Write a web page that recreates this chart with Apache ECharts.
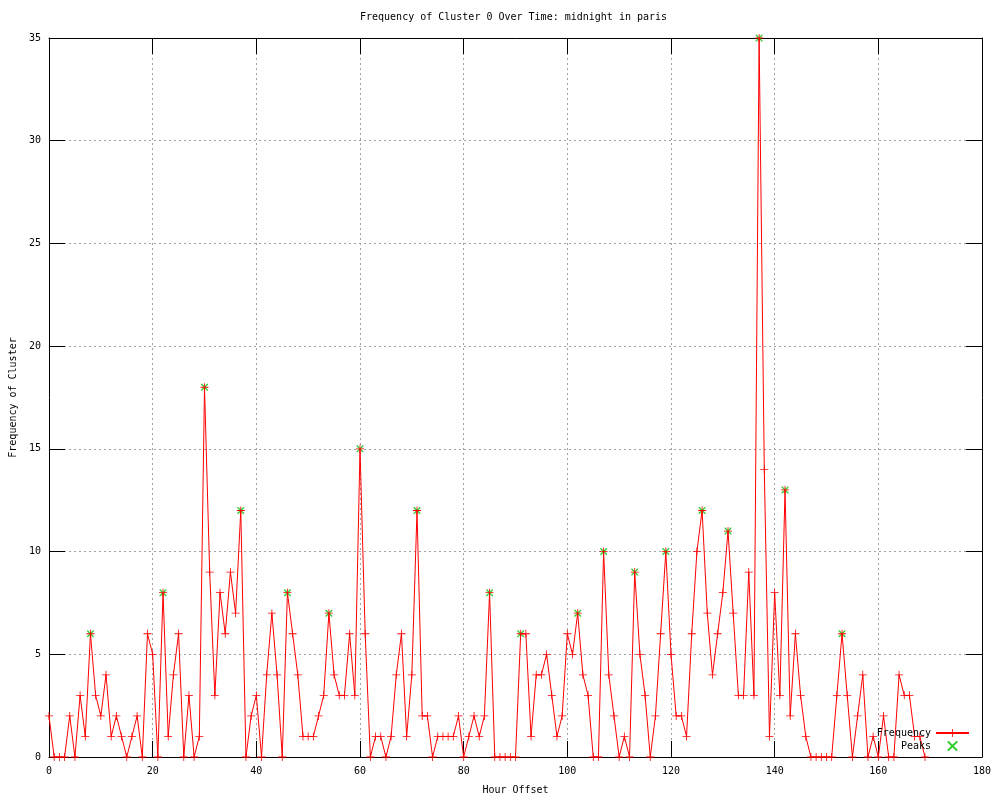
<!DOCTYPE html>
<html>
<head>
<meta charset="utf-8">
<script src="https://cdn.jsdelivr.net/npm/echarts@6/dist/echarts.min.js"></script>
<style>html,body{margin:0;padding:0;background:#fff}#c{width:1000px;height:800px}</style>
</head>
<body>
<div id="c"></div>
<script>
// Frequency per hour offset (hour = index, starting at 0)
const frequency = [
  2,0,0,0,2,0,3,1,6,3, 2,4,1,2,1,0,1,2,0,6,
  5,0,8,1,4,6,0,3,0,1, 18,9,3,8,6,9,7,12,0,2,
  3,0,4,7,4,0,8,6,4,1, 1,1,2,3,7,4,3,3,6,3,
  15,6,0,1,1,0,1,4,6,1, 4,12,2,2,0,1,1,1,1,2,
  0,1,2,1,2,8,0,0,0,0, 0,6,6,1,4,4,5,3,1,2,
  6,5,7,4,3,0,0,10,4,2, 0,1,0,9,5,3,0,2,6,10,
  5,2,2,1,6,10,12,7,4,6, 8,11,7,3,3,9,3,35,14,1,
  8,3,13,2,6,3,1,0,0,0, 0,0,3,6,3,0,2,4,0,1,
  0,2,0,0,4,3,3,1,1,0
];
const peakHours  = [8, 22, 30, 37, 46, 54, 60, 71, 85, 91, 102, 107, 113, 119, 126, 131, 137, 142, 153];
const peakValues = [6, 8, 18, 12, 8, 7, 15, 12, 8, 6, 7, 10, 9, 10, 12, 11, 35, 13, 6];
const xTicks = [0, 20, 40, 60, 80, 100, 120, 140, 160, 180];
const yTicks = [0, 5, 10, 15, 20, 25, 30, 35];

const FONT = 'DejaVu Sans Mono';
const plusPath = 'path://M4.5,0h1v10h-1z M0,4.5h10v1h-10z';
const crossPath = 'path://M0,0L1.4,0L10,8.6L10,10L8.6,10L0,1.4Z M10,0L10,1.4L1.4,10L0,10L0,8.6L8.6,0Z';

const freqData = frequency.map((v, i) => [i, v]);
const peakData = peakHours.map((h, i) => [h, peakValues[i]]);

const gridLine = { show: true, lineStyle: { color: '#a0a0a0', width: 1, type: [2, 3] } };
const axisLine = { show: true, onZero: false, lineStyle: { color: '#000', width: 1 } };
const tick = { show: true, inside: true, length: 16, lineStyle: { color: '#000', width: 1 } };
const lbl = { color: '#000', fontFamily: FONT, fontSize: 10 };

const chart = echarts.init(document.getElementById('c'), null, { renderer: 'canvas' });
chart.setOption({
  animation: false,
  backgroundColor: '#fff',
  title: {
    text: 'Frequency of Cluster 0 Over Time: midnight in paris',
    left: 360, top: 12, padding: 0,
    textStyle: { color: '#000', fontFamily: FONT, fontSize: 10, fontWeight: 'normal' }
  },
  grid: { left: 49, right: 18, top: 38, bottom: 40, containLabel: false },
  legend: {
    orient: 'vertical', align: 'right', right: 30, top: 728, padding: 0,
    itemWidth: 33, itemHeight: 10, itemGap: 3,
    textStyle: { color: '#000', fontFamily: FONT, fontSize: 10 },
    data: ['Frequency', 'Peaks']
  },
  xAxis: [{
    type: 'value', min: xTicks[0], max: xTicks[xTicks.length - 1], interval: 20,
    name: 'Hour Offset', nameLocation: 'middle', nameGap: 28,
    nameTextStyle: lbl,
    axisLine: axisLine, axisTick: tick,
    axisLabel: Object.assign({ margin: 9 }, lbl),
    splitLine: gridLine
  }, {
    type: 'value', position: 'top', min: xTicks[0], max: xTicks[xTicks.length - 1], interval: 20,
    axisLine: axisLine, axisTick: tick, axisLabel: { show: false }, splitLine: { show: false }
  }],
  yAxis: [{
    type: 'value', min: yTicks[0], max: yTicks[yTicks.length - 1], interval: 5,
    name: 'Frequency of Cluster', nameLocation: 'middle', nameGap: 31,
    nameTextStyle: lbl,
    axisLine: axisLine, axisTick: tick,
    axisLabel: Object.assign({ margin: 8 }, lbl),
    splitLine: gridLine
  }, {
    type: 'value', position: 'right', min: yTicks[0], max: yTicks[yTicks.length - 1], interval: 5,
    axisLine: axisLine, axisTick: tick, axisLabel: { show: false }, splitLine: { show: false }
  }],
  series: [{
    name: 'Frequency', type: 'line', data: freqData,
    xAxisIndex: 0, yAxisIndex: 0,
    symbol: plusPath, symbolSize: 8, showAllSymbol: true,
    itemStyle: { color: '#ff0000' },
    lineStyle: { color: '#ff0000', width: 1 },
    emphasis: { disabled: true }
  }, {
    name: 'Peaks', type: 'scatter', data: peakData,
    xAxisIndex: 0, yAxisIndex: 0,
    symbol: crossPath, symbolSize: 7,
    itemStyle: { color: '#00c000' },
    emphasis: { disabled: true }
  }]
});
</script>
</body>
</html>
